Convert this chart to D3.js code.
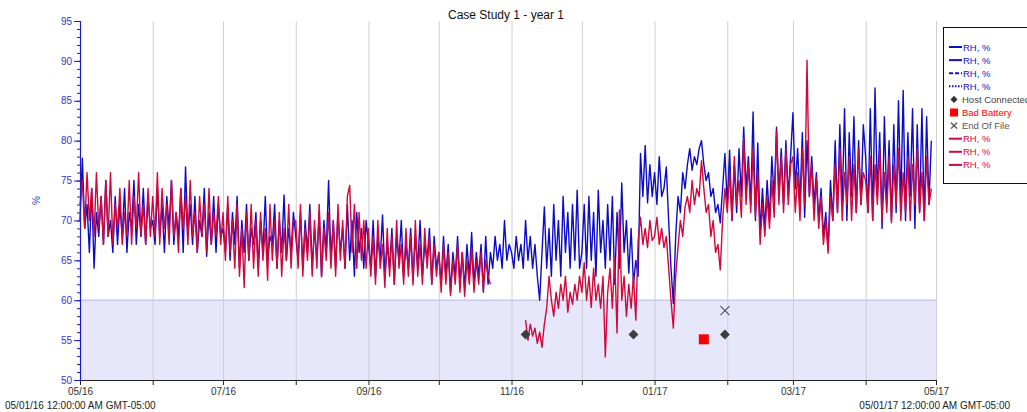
<!DOCTYPE html>
<html>
<head>
<meta charset="utf-8">
<script src="https://cdn.jsdelivr.net/npm/d3@7"></script>
<style>
  body { margin: 0; background: #fff; }
  text { font-family: "Liberation Sans", Arial, sans-serif; }
</style>
</head>
<body>
<svg id="chart" width="1027" height="412"></svg>
<script>
// daily readings starting 05/01/16
const startDate = new Date(2016, 4, 1);
const endDate = new Date(2017, 4, 1);

const blueRH = [
  // May
  70, 77.8, 69, 72, 66, 74, 64, 71, 68, 73, 67, 75, 68, 70, 66, 73, 67, 72, 68, 74, 66, 71, 69, 75, 67, 72, 68, 74, 67, 73, 69,
  // Jun
  70, 67, 74, 68, 72, 66, 73, 69, 75, 67, 71, 68, 74, 66, 76.7, 68, 72, 67, 73, 66, 70, 68, 74, 65.5, 71, 67, 73, 66, 72, 68,
  // Jul
  69, 66, 72, 65, 71, 67, 73, 64, 70, 66, 72, 65, 69, 67, 71, 64, 70, 66, 73, 65, 68, 67, 72, 64, 70, 66, 73.2, 65, 69, 66, 71,
  // Aug
  68, 65, 71, 64, 70, 66, 72, 64, 69, 65, 71, 63, 70, 66, 75, 65, 70, 64, 71, 66, 69, 64, 72, 65, 70, 63, 71, 66, 69, 64, 70,
  // Sep
  67, 64, 70, 63, 68, 65, 70.7, 63, 67, 64, 69, 62, 68, 65, 70, 63, 67, 64, 69, 62.5, 68, 64, 70, 63, 67, 65, 69, 62, 68, 64,
  // Oct
  66, 62, 68, 63, 67, 61, 66, 63, 68, 62, 66, 61.5, 67, 63, 68.5, 62, 66, 63, 67, 61, 68, 62, 66, 64, 68, 65, 67, 64, 70, 65, 67,
  // Nov
  66, 64, 68, 65, 67, 64, 70, 65, 68, 64, 67, 63, 60, 66, 71.7, 64, 69, 63, 72, 65, 70, 63, 73, 66, 71, 64, 72, 65, 73.8, 64,
  // Dec
  66, 72, 64, 73, 65, 71, 63, 73.8, 66, 70, 64, 72, 65, 73, 62, 71, 64, 74.7, 66, 70, 63.4, 69, 62, 65, 63, 78.4, 73, 79.4, 72.2, 77, 73,
  // Jan
  76, 72, 78, 73, 74, 76.7, 70, 64, 59.6, 68, 73, 71, 76, 74, 77, 79, 76.3, 78, 77, 79, 80, 77, 75, 76, 73, 74, 71, 72, 69.7, 74, 78.4,
  // Feb
  72, 78.8, 70, 77, 71, 79, 73, 81.7, 74, 78, 72, 83.6, 70, 79.7, 68.4, 74, 69, 75, 70, 78, 72.6, 81.7, 73, 79, 72, 80, 73, 78,
  // Mar
  83.5, 74, 79, 72, 81, 70.4, 80, 73, 78, 72, 76, 70, 74, 68, 71, 66.3, 75, 70, 80, 71, 82, 72, 84, 70, 81, 73, 83, 71, 80, 72, 82,
  // Apr
  78, 71, 84, 70, 86.6, 73, 81, 69, 83, 72, 80, 70, 82, 71, 85, 72, 86.3, 70, 81, 73, 84, 69, 82, 71, 84, 70, 83, 72, 80
];

const redRH = [
  // May
  72, 75, 69, 76, 70, 74, 68, 76, 69, 73, 67, 75, 68, 76, 67, 72, 69, 74, 67, 71, 68, 75, 67, 73, 69, 76, 68, 72, 67, 74, 68,
  // Jun
  73, 68, 76, 67, 74, 69, 72, 67, 75, 68, 71, 66, 74, 69, 73, 67, 75, 68, 71, 66, 73, 68, 72, 66, 74, 67, 71, 68, 73, 67,
  // Jul
  71, 65, 73, 66, 70, 64, 72, 63, 69, 61.6, 71, 65, 72, 64, 70, 63, 71, 65, 69, 62.5, 72, 65, 70, 64, 71, 63, 69, 65, 72, 64, 70,
  // Aug
  70, 64, 72, 63, 69, 65, 71, 63, 70, 64, 72, 62.9, 69, 65, 71, 64, 70, 63, 72, 65, 70, 64, 73, 74.4, 66, 72, 64, 71, 65, 70, 64,
  // Sep
  69, 63, 68, 62, 70, 64, 67, 61.6, 69, 63, 68, 62, 70, 64, 67, 62, 69, 63, 68, 61.9, 70, 63, 67, 62, 69, 64, 68, 62, 67, 63,
  // Oct
  66, 61, 67, 62, 66, 60.6, 65, 62, 67, 61, 66, 60.5, 65, 62, 66.5, 61, 65, 62, 66, 61.3, 65, 63, 62,
  null, null, null, null, null, null, null, null,
  // Nov
  null, null, null, null, null, null,
  57.5, 55, 57, 55.5, 56.5, 54.6, 56, 54.1, 57,
  59, 63, 60, 58, 61, 59, 62, 60, 63, 58.5, 61, 59.5, 62, 60, 63,
  // Dec
  61, 64.7, 60, 63, 59.1, 64, 60, 62, 59, 63, 52.9, 61, 64, 59, 65.4, 55.9, 71.3,
  60, 63, 58, 62, 59, 63, 57.5, 67.5, 70.4, 67, 69, 66.6, 70, 67.5,
  // Jan
  68, 70.4, 67, 69, 66.6, 68, 64, 60, 56.5, 63, 66.7, 70, 68, 71.7, 73, 71, 75, 72, 74, 73, 77.5,
  74, 71, 72, 68, 70, 66, 67, 63.8, 70, 74,
  // Feb
  71, 76, 70, 78, 72, 75, 70.4, 80.3, 72, 77, 71, 79, 70.5, 76, 67, 72, 68, 73, 69, 75, 70.4, 81.3, 72, 78, 71, 79, 72, 77,
  // Mar
  78, 71, 76, 70, 79, 72, 90.1, 73, 77, 70, 75.4, 69, 73, 67, 70, 65.9, 73, 70, 77, 71, 79, 70, 76, 72, 78, 70, 77, 71, 79, 72, 76,
  // Apr
  75, 71, 78, 70, 77, 72, 79, 70, 76, 71, 78, 69.7, 77, 72, 79, 70, 76, 71, 78, 70, 77, 72, 79, 71, 76, 70, 78, 72, 74
];

// event markers
const hostConnected = [[new Date(2016, 10, 7), 55.7], [new Date(2016, 11, 23), 55.7], [new Date(2017, 0, 31), 55.7]];
const badBattery = [[new Date(2017, 0, 22), 55.1]];
const endOfFile = [[new Date(2017, 0, 31), 58.7]];

const yTicks = [50, 55, 60, 65, 70, 75, 80, 85, 90, 95];
const legendItems = [
  { label: "RH, %", color: "#1010c8", type: "line", dash: null },
  { label: "RH, %", color: "#1010c8", type: "line", dash: null },
  { label: "RH, %", color: "#1010c8", type: "line", dash: "4,2" },
  { label: "RH, %", color: "#1010c8", type: "line", dash: "1.5,1.5" },
  { label: "Host Connected", color: "#444", type: "diamond" },
  { label: "Bad Battery", color: "#f00", type: "square" },
  { label: "End Of File", color: "#555", type: "cross" },
  { label: "RH, %", color: "#d6063c", type: "line", dash: null },
  { label: "RH, %", color: "#d6063c", type: "line", dash: null },
  { label: "RH, %", color: "#d6063c", type: "line", dash: null }
];

const svg = d3.select("#chart");
const blue = "#0c0cc8", red = "#d2073b";

const x = d3.scaleTime().domain([startDate, endDate]).range([80, 936]);
const y = d3.scaleLinear().domain([50, 95]).range([380, 21]);

// alarm band 50-60
svg.append("rect")
  .attr("x", x(startDate)).attr("y", y(60))
  .attr("width", x(endDate) - x(startDate)).attr("height", y(50) - y(60))
  .attr("fill", "#e7e7fb");
svg.append("line")
  .attr("x1", x(startDate)).attr("x2", x(endDate))
  .attr("y1", y(60)).attr("y2", y(60))
  .attr("stroke", "#c9c9ef").attr("stroke-width", 1.5);

// month grid
const months = d3.timeMonth.range(startDate, d3.timeDay.offset(endDate, 1));
svg.append("g").selectAll("line")
  .data(months.slice(1))
  .enter().append("line")
  .attr("x1", d => x(d) + 0.5).attr("x2", d => x(d) + 0.5)
  .attr("y1", y(95)).attr("y2", y(50))
  .attr("stroke", "#cfcfcf").attr("stroke-width", 1);

// series
const line = d3.line()
  .defined(d => d[1] != null)
  .x(d => x(d[0]))
  .y(d => y(d[1]));
const toPts = arr => arr.map((v, i) => [d3.timeDay.offset(startDate, i), v]);

svg.append("path").datum(toPts(blueRH))
  .attr("d", line).attr("fill", "none")
  .attr("stroke", blue).attr("stroke-width", 1.4).attr("stroke-linejoin", "round");
svg.append("path").datum(toPts(redRH))
  .attr("d", line).attr("fill", "none")
  .attr("stroke", red).attr("stroke-width", 1.4).attr("stroke-linejoin", "round");

// markers
svg.append("g").selectAll("path")
  .data(hostConnected).enter().append("path")
  .attr("transform", d => `translate(${x(d[0])},${y(d[1])}) rotate(45)`)
  .attr("d", "M-3.5,-3.5H3.5V3.5H-3.5Z")
  .attr("fill", "#3d3d3d");
svg.append("g").selectAll("rect")
  .data(badBattery).enter().append("rect")
  .attr("x", d => x(d[0]) - 5).attr("y", d => y(d[1]) - 5)
  .attr("width", 10).attr("height", 10)
  .attr("fill", "#f80000");
svg.append("g").selectAll("path")
  .data(endOfFile).enter().append("path")
  .attr("transform", d => `translate(${x(d[0])},${y(d[1])})`)
  .attr("d", "M-4.5,-4.5L4.5,4.5M-4.5,4.5L4.5,-4.5")
  .attr("stroke", "#555").attr("stroke-width", 1.2);

// x axis
const xAxis = svg.append("g")
  .attr("transform", `translate(0,${y(50)})`)
  .call(d3.axisBottom(x).tickValues(months).tickSize(5).tickPadding(3)
    .tickFormat((d, i) => i % 2 === 0 ? d3.timeFormat("%m/%y")(d) : ""));
xAxis.select(".domain").attr("stroke", "#222");
xAxis.selectAll(".tick line").attr("stroke", "#222");
xAxis.selectAll("text").attr("fill", "#333").style("font-size", "10px");

// y axis
const yAxis = svg.append("g")
  .attr("transform", `translate(${x(startDate)},0)`)
  .call(d3.axisLeft(y).tickValues(yTicks).tickSize(6).tickPadding(2));
yAxis.select(".domain").attr("stroke", "#1a1ad0").attr("stroke-width", 1.2);
yAxis.selectAll(".tick line").attr("stroke", "#1a1ad0");
yAxis.selectAll("text").attr("fill", "#3535c8").style("font-size", "10px");
svg.append("g")
  .attr("transform", `translate(${x(startDate)},0)`)
  .call(d3.axisLeft(y).ticks(45).tickSize(3).tickFormat(""))
  .call(g => g.select(".domain").remove())
  .selectAll("line").attr("stroke", "#1a1ad0");

svg.append("text")
  .attr("transform", `translate(40,${y(72.5)}) rotate(-90)`)
  .attr("text-anchor", "middle")
  .attr("fill", "#3535c8").style("font-size", "10px")
  .text("%");

// title
svg.append("text")
  .attr("x", 506).attr("y", 19)
  .attr("text-anchor", "middle")
  .style("font-size", "12px").attr("fill", "#111")
  .text("Case Study 1 - year 1");

// start / end stamps
svg.append("text").attr("x", 5).attr("y", 409)
  .style("font-size", "10px").attr("fill", "#222")
  .text("05/01/16 12:00:00 AM GMT-05:00");
svg.append("text").attr("x", 1010).attr("y", 409)
  .attr("text-anchor", "end")
  .style("font-size", "10px").attr("fill", "#222")
  .text("05/01/17 12:00:00 AM GMT-05:00");

// legend
const lg = svg.append("g");
lg.append("rect")
  .attr("x", 943.5).attr("y", 27.5).attr("width", 100).attr("height", 156)
  .attr("fill", "#fff").attr("stroke", "#111");
const item = lg.selectAll("g.item")
  .data(legendItems).enter().append("g")
  .attr("transform", (d, i) => `translate(949,${47 + i * 13.1})`);
item.filter(d => d.type === "line").append("line")
  .attr("x1", 0).attr("x2", 13).attr("y1", 0).attr("y2", 0)
  .attr("stroke", d => d.color).attr("stroke-width", 2)
  .attr("stroke-dasharray", d => d.dash);
item.filter(d => d.type === "diamond").append("path")
  .attr("transform", "translate(5,0) rotate(45)")
  .attr("d", "M-2.5,-2.5H2.5V2.5H-2.5Z").attr("fill", "#333");
item.filter(d => d.type === "square").append("rect")
  .attr("x", 1).attr("y", -4).attr("width", 8).attr("height", 8).attr("fill", "#f00");
item.filter(d => d.type === "cross").append("path")
  .attr("transform", "translate(5,0)")
  .attr("d", "M-3,-3L3,3M-3,3L3,-3").attr("stroke", "#444").attr("stroke-width", 1.3);
item.append("text")
  .attr("x", d => d.type === "line" ? 14 : 13).attr("y", 3.5)
  .style("font-size", "9.5px")
  .attr("fill", d => d.color)
  .text(d => d.label);
</script>
</body>
</html>
